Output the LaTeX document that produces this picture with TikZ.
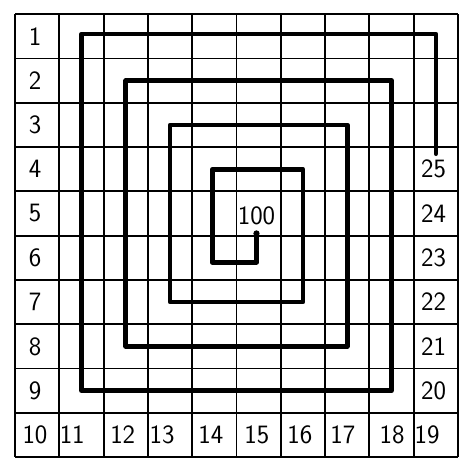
\documentclass[tikz,border=0pt]{standalone}
\usepackage{tikz}

\begin{document}
\begin{tikzpicture}[x=1cm, y=1cm,
    gridline/.style={black, line width=1.2pt},
    spiral/.style={black, line width=3pt, line join=round, line cap=round},
    digit/.style={font=\sffamily\fontsize{17}{20}\selectfont}]
    \useasboundingbox (-0.34, 0.32) rectangle (10.09, -10.09);

    % Grid of 10 by 10 cells
    \foreach \i in {0,...,10} {
        \draw[gridline] (\i, 0) -- (\i, -10);
        \draw[gridline] (0, -\i) -- (10, -\i);
    }

    % Left column: 1 to 9
    \foreach \n in {1,...,9}
        \node[digit] (left\n) at (0.45, {0.5-\n}) {\n};

    % Bottom row: 10 to 19
    \foreach \n/\x in {10/0.45, 11/1.29, 12/2.43, 13/3.32, 14/4.42,
                       15/5.46, 16/6.43, 17/7.4, 18/8.51, 19/9.3}
        \node[digit] (bottom\n) at (\x, -9.5) {\n};

    % Right column: 20 to 25
    \foreach \n/\r in {25/3, 24/4, 23/5, 22/6, 21/7, 20/8}
        \node[digit] (right\n) at (9.45, {-\r-0.5}) {\n};

    % Centre label
    \node[digit] (centre) at (5.45, -4.55) {100};

    % The spiral, from 25 inwards to 100
    \coordinate (start) at (9.5, -3.15);
    \coordinate (stop) at (5.45, -4.95);
    \draw[spiral] (start) -- (9.5, -0.45) -- (1.5, -0.45) -- (1.5, -8.5)
        -- (8.5, -8.5) -- (8.5, -1.5) -- (2.5, -1.5) -- (2.5, -7.5)
        -- (7.5, -7.5) -- (7.5, -2.5) -- (3.5, -2.5) -- (3.5, -6.5)
        -- (6.5, -6.5) -- (6.5, -3.5) -- (4.45, -3.5) -- (4.45, -5.6)
        -- (5.45, -5.6) -- (stop);
    \fill (stop) circle (2pt);
\end{tikzpicture}
\end{document}
